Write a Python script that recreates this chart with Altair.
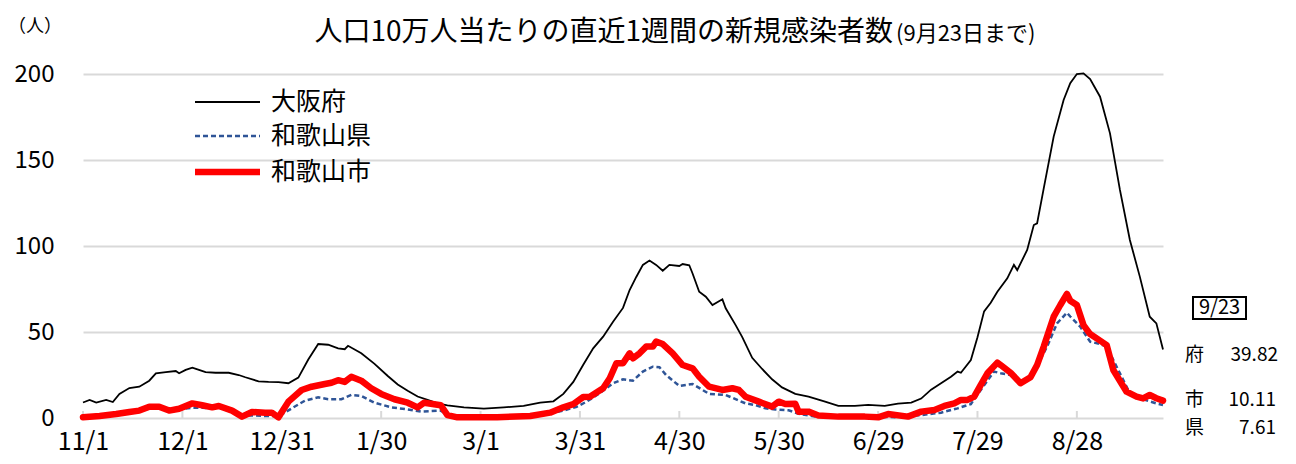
import altair as alt
import pandas as pd

FONT = "Noto Sans CJK JP"

# ---- data (day 0 = 2020-11-01, day 326 = 2021-09-23) ----
tick_days = [0, 30, 60, 90, 120, 150, 180, 210, 240, 270, 300]
tick_labels = ['11/1', '12/1', '12/31', '1/30', '3/1', '3/31', '4/30', '5/30', '6/29', '7/29', '8/28']
y_ticks = [0, 50, 100, 150, 200]

series_names = ['大阪府', '和歌山県', '和歌山市']

osaka_day = [0,2,4,7,9,11,14,17,20,22,25,28,29,31,33,35,37,40,44,47,49,53,56,59,62,65,68,71,74,77,79,80,84,88,92,95,98,101,104,107,110,115,121,127,133,138,142,145,148,151,154,157,160,163,165,167,169,171,173,175,177,180,181,183,184,186,188,190,193,194,197,199,202,205,208,211,215,219,224,228,233,237,242,246,250,253,256,259,262,264,265,268,270,272,274,276,279,281,282,285,287,288,290,293,296,298,300,302,304,307,310,313,316,319,322,324,326]
osaka_val = [9,10.5,9,10.5,9.3,14,17.4,18.2,21.7,26,26.7,27.3,26,28,29.3,28,26.7,26.3,26.3,25,23.7,21.3,21,20.9,20.2,23.5,34,43,42.6,40.5,40,42,37.6,31.5,24.4,19.5,15.9,12.5,10.5,8.5,7.4,6.2,5.4,6.2,7,9,9.7,14,21,31,40.5,47.3,56,64,74.4,82,89,91.5,89,85.6,89,88.4,89.5,88.8,84,73.4,70.5,65.7,69,63.8,54,47,35,28.5,22.5,17.8,14,12.4,9.5,7,7,7.6,7,8.3,8.9,11.3,16.5,20.2,24,27,26.3,33.7,47,62,67,73.4,81.2,89,86,97.7,112.2,113.2,133.5,163.6,184.9,194.6,200,200.4,197,186.8,165.5,132.6,103.5,82.2,58.9,55,39.82]

pref_day = [0,5,10,14,17,20,23,26,29,33,36,39,41,45,48,51,55,59,63,67,71,74,78,81,84,88,93,98,102,105,108,110,113,125,135,139,145,149,152,156,160,163,166,169,172,174,176,180,184,189,194,200,203,206,209,213,216,221,245,253,259,264,268,271,275,277,280,283,286,291,294,297,298,301,304,307,309,312,316,320,324,326]
pref_val = [0.3,1,2,3,4,5.5,6,4,5,6,6,5.5,6,3.5,1.5,1.5,1.2,1,5.6,10.1,12,10.9,10.9,13.4,12.8,8.9,6.2,5,3.7,4,4.3,1.7,0.5,0.5,1,1.7,4.3,6.5,9.5,14.4,20.2,22.5,21.7,27,29.8,29.5,25,18.6,19.8,14,13.4,8.5,7.5,5.6,5,4.5,2.5,0.8,0.5,1.7,3.1,5.6,8.1,16.3,27,26,25,20,23,41.5,55,61.2,59,53.1,44.4,43,41.5,29.8,14.4,10.9,8.5,7.61]

city_day = [0,5,10,14,17,20,23,26,29,33,36,39,41,45,48,51,55,57,59,62,66,69,73,75,77,79,81,84,87,90,94,98,101,103,108,110,113,125,135,141,145,148,151,153,157,159,161,163,165,166,168,170,172,173,175,178,181,184,186,189,193,196,198,200,204,208,210,212,215,216,219,222,228,236,240,243,249,253,257,260,263,265,267,269,271,273,276,277,280,283,286,288,290,293,295,297,298,300,302,304,307,309,311,315,318,320,322,324,326]
city_val = [0.4,1.2,2.3,3.5,4.3,6.6,6.6,4.3,5.4,8.5,7.4,6.2,7,4.3,0.8,3.5,3.1,3.1,0.4,9.5,16.3,18.2,19.8,20.5,22,21,24,21.7,17.3,14,10.9,8.9,6.2,8.9,7.4,1.7,0.4,0.4,1.2,3.1,6.2,8.1,12.2,12.4,17.3,23.1,31.8,31.8,37.6,34.7,37.6,41.5,41.5,44.4,43,37.6,30.8,28.9,24,18.2,16.3,17.3,16.3,12.4,9.5,6.6,9.5,8.1,8.3,3.7,3.7,1.5,0.8,0.8,0.4,2.3,0.8,3.7,4.7,7,8.5,10.5,10.5,12.4,19.2,26,32.2,30.8,26.3,20.2,23.7,30.8,41.5,58.9,65.7,72.1,68.2,65.7,54,48.8,45,42.4,27.9,15.3,12.4,11.4,13.4,11.5,10.11]

last_date = '9/23'
last_labels = ['府', '市', '県']
last_values = ['39.82', '10.11', '7.61']

title_main = '人口10万人当たりの直近1週間の新規感染者数'
title_sub = '(9月23日まで)'
y_unit = '（人）'

assert len(osaka_day) == len(osaka_val)
assert len(pref_day) == len(pref_val)
assert len(city_day) == len(city_val)

rows = []
for name, days, vals in [(series_names[0], osaka_day, osaka_val),
                         (series_names[1], pref_day, pref_val),
                         (series_names[2], city_day, city_val)]:
    for d, v in zip(days, vals):
        rows.append({'day': d, 'value': v, 'series': name})
df = pd.DataFrame(rows)

W, H = 1080, 344
GRID = '#d9d9d9'

label_js = "[" + ",".join("'%s'" % t for t in tick_labels) + "][round(datum.value/30)]"

x_enc = alt.X('day:Q', scale=alt.Scale(domain=[0, 326], nice=False, zero=False),
              axis=alt.Axis(values=tick_days, labelExpr=label_js, grid=False, domain=False,
                            ticks=False, labelPadding=11, labelFontSize=25, title=None,
                            labelFont=FONT, labelColor='black', labelFlush=False))
y_enc = alt.Y('value:Q', scale=alt.Scale(domain=[0, 200], nice=False),
              axis=alt.Axis(values=y_ticks, grid=True, gridColor=GRID, gridWidth=2,
                            domain=False, ticks=False, labelPadding=29, labelFontSize=24,
                            title=None, labelFont=FONT, labelColor='black'))

base = alt.Chart(df)

ticks = alt.Chart(pd.DataFrame({'day': tick_days})).mark_rule(
    color=GRID, strokeWidth=2).encode(x=x_enc, y=alt.value(H - 7), y2=alt.value(H))

osaka = base.transform_filter(alt.datum.series == series_names[0]).mark_line(
    color='black', strokeWidth=1.8).encode(x=x_enc, y=y_enc)
pref = base.transform_filter(alt.datum.series == series_names[1]).mark_line(
    color='#2f5597', strokeWidth=2.5, strokeDash=[5, 3]).encode(x=x_enc, y=y_enc)
city = base.transform_filter(alt.datum.series == series_names[2]).mark_line(
    color='#ff0000', strokeWidth=6.5, strokeJoin='round', strokeCap='round').encode(x=x_enc, y=y_enc)


def txt(s, x, y, size, align='left', baseline='middle'):
    return alt.Chart(pd.DataFrame({'t': [s]})).mark_text(
        font=FONT, fontSize=size, align=align, baseline=baseline, color='black'
    ).encode(text='t:N', x=alt.value(x), y=alt.value(y))


def seg(x1, x2, y, **kw):
    return alt.Chart(pd.DataFrame({'a': [0]})).mark_rule(**kw).encode(
        x=alt.value(x1), x2=alt.value(x2), y=alt.value(y))


# legend
leg_ys = [28, 62, 98]
legend = [
    seg(112, 177, leg_ys[0], color='black', strokeWidth=1.8),
    seg(112, 177, leg_ys[1], color='#2f5597', strokeWidth=2.5, strokeDash=[5, 3]),
    seg(112, 177, leg_ys[2], color='#ff0000', strokeWidth=6.5),
    txt(series_names[0], 188, leg_ys[0], 25),
    txt(series_names[1], 188, leg_ys[1], 25),
    txt(series_names[2], 188, leg_ys[2], 25),
]

titles = [
    txt(title_main, 810, -41, 28, align='right'),
    txt(title_sub, 813, -40, 22, align='left'),
    txt(y_unit, -48, -47, 18, align='center'),
]

box = alt.Chart(pd.DataFrame({'a': [0]})).mark_rect(
    fillOpacity=0, stroke='black', strokeWidth=2).encode(
    x=alt.value(1110), x2=alt.value(1163), y=alt.value(223), y2=alt.value(245))

right = [
    box,
    txt(last_date, 1136.5, 234, 20, align='center'),
    txt(last_labels[0], 1102, 281, 19),
    txt(last_values[0], 1195, 281, 19, align='right'),
    txt(last_labels[1], 1102, 326, 19),
    txt(last_values[1], 1193, 326, 19, align='right'),
    txt(last_labels[2], 1102, 354, 19),
    txt(last_values[2], 1193, 354, 19, align='right'),
]

chart = alt.layer(ticks, osaka, pref, city, *legend, *titles, *right).properties(
    width=W, height=H,
    padding={'left': 75, 'top': 66, 'right': 125, 'bottom': 38},
    autosize=alt.AutoSizeParams(type='none'),
    background='white',
).configure_view(stroke=None).configure_text(font=FONT)

chart.save("out.html", embed_options={"renderer": "svg", "actions": False})
